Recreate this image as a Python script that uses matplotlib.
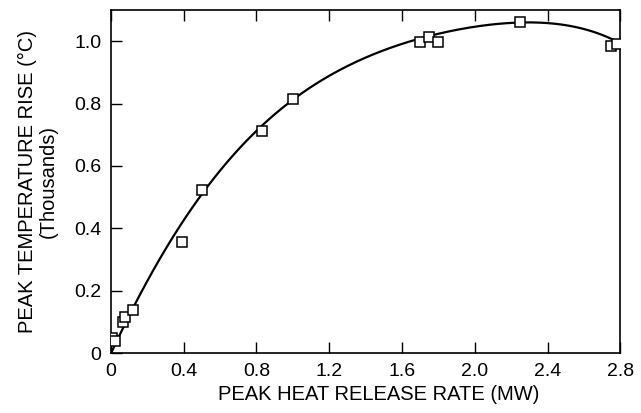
import numpy as np
import matplotlib
matplotlib.use("Agg")
import matplotlib.pyplot as plt
from matplotlib.ticker import FuncFormatter

plt.rcParams['font.family'] = ['Liberation Sans', 'DejaVu Sans']

# measured points: peak heat release rate (MW) vs peak temperature rise (thousands of deg C)
hrr = [0.005, 0.025, 0.065, 0.075, 0.12, 0.39, 0.50, 0.83, 1.00,
       1.70, 1.75, 1.795, 2.25, 2.75, 2.78]
temp = [0.05, 0.04, 0.10, 0.115, 0.138, 0.356, 0.522, 0.711, 0.813,
        0.996, 1.014, 0.996, 1.062, 0.983, 0.99]

# trend curve
curve_x = [0.0, 0.12, 0.32, 0.50, 0.83, 1.00, 1.30, 1.58, 1.75, 2.00, 2.12, 2.25, 2.50, 2.67, 2.78]
curve_y = [0.0, 0.14, 0.35, 0.52, 0.715, 0.815, 0.93, 0.986, 1.01, 1.045, 1.057, 1.063, 1.05, 1.024, 1.0]

xticks = [0, 0.4, 0.8, 1.2, 1.6, 2.0, 2.4, 2.8]
yticks = [0, 0.2, 0.4, 0.6, 0.8, 1.0]

# smooth the read curve with a polynomial
coef = np.polyfit(curve_x, curve_y, 5)
xs = np.linspace(0, 2.78, 300)
ys = np.polyval(coef, xs)

fig = plt.figure(figsize=(6.41, 4.13), dpi=100)
ax = fig.add_axes([0.173, 0.145, 0.795, 0.831])

ax.plot(xs, ys, color='black', lw=1.6, zorder=2)
ax.plot(hrr, temp, 's', ms=6.5, mfc='white', mec='black', mew=1.1, zorder=3)

ax.set_xlim(0, 2.78)
ax.set_ylim(0, 1.1)
ax.set_xticks(xticks)
ax.set_yticks(yticks)
fmt = FuncFormatter(lambda v, p: '0' if abs(v) < 1e-9 else '%.1f' % v)
ax.xaxis.set_major_formatter(fmt)
ax.yaxis.set_major_formatter(fmt)
ax.tick_params(direction='in', length=8, width=1, labelsize=14, top=True, pad=7)
for s in ax.spines.values():
    s.set_linewidth(1.2)

ax.set_xlabel('PEAK HEAT RELEASE RATE (MW)', fontsize=14.5)
ax.xaxis.set_label_coords(0.525, -0.092)
ax.set_ylabel('PEAK TEMPERATURE RISE (°C)\n(Thousands)', fontsize=14.5,
              linespacing=1.1, labelpad=12)

fig.savefig('out.png', dpi=100)
